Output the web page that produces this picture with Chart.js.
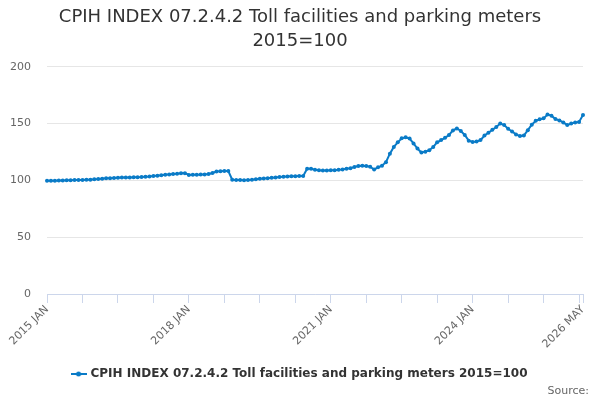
<!DOCTYPE html>
<html>
<head>
<meta charset="utf-8">
<script src="https://cdn.jsdelivr.net/npm/chart.js@4/dist/chart.umd.min.js"></script>
<style>
  body { margin: 0; background: #fff; }
  #wrap { position: relative; width: 600px; height: 400px; }
  #source { position: absolute; right: 11px; top: 384px; font: 11px "DejaVu Sans", sans-serif; color: #666; }
</style>
</head>
<body>
<div id="wrap">
  <canvas id="chart" width="600" height="400"></canvas>
  <div id="source">Source:</div>
</div>
<script>
// Monthly index values, 2015 JAN .. 2026 MAY (2015=100)
const startYear = 2015;
const monthNames = ["JAN", "FEB", "MAR", "APR", "MAY", "JUN", "JUL", "AUG", "SEP", "OCT", "NOV", "DEC"];
const values = [
    99.6, 99.7, 99.8, 99.9, 100.0, 100.1, 100.2, 100.3, 100.3, 100.4, 100.5, 100.6,
    101.0, 101.2, 101.5, 101.8, 102.0, 102.2, 102.4, 102.5, 102.6, 102.6, 102.7, 102.8,
    103.0, 103.3, 103.5, 103.8, 104.2, 104.5, 104.9, 105.3, 105.6, 105.9, 106.3, 106.4,
    104.8, 104.9, 105.0, 105.1, 105.3, 105.6, 106.5, 107.8, 108.1, 108.2, 108.2, 100.6,
    100.4, 100.3, 100.2, 100.3, 100.6, 101.0, 101.4, 101.7, 102.0, 102.3, 102.6, 102.9,
    103.2, 103.4, 103.6, 103.7, 103.8, 103.8, 110.2, 110.2, 109.4, 109.0, 108.8, 108.8,
    108.9, 109.0, 109.3, 109.7, 110.2, 110.8, 111.8, 112.6, 112.8, 112.6, 112.0, 109.6,
    111.5, 113.0, 116.0, 123.5, 129.5, 133.5, 137.0, 138.0, 136.8, 132.5, 128.0, 124.5,
    125.3, 126.5, 129.5, 133.5, 135.5, 137.5, 140.0, 144.0, 145.7, 143.5, 140.0, 135.0,
    133.9, 134.2, 135.5, 139.5, 142.0, 144.5, 147.0, 150.0, 148.7, 145.5, 143.0, 140.5,
    139.0, 139.5, 144.2, 149.0, 152.5, 153.8, 154.6, 158.0, 157.0, 154.0, 152.8, 151.0,
    148.7, 150.0, 151.0, 151.5, 157.5
];
const labels = values.map((v, i) => (startYear + Math.floor(i / 12)) + " " + monthNames[i % 12]);
const shownLabels = ["2015 JAN", "2018 JAN", "2021 JAN", "2024 JAN", "2026 MAY"];
const yTicks = [0, 50, 100, 150, 200];

const seriesName = "CPIH INDEX 07.2.4.2 Toll facilities and parking meters 2015=100";
const lineColor = "#0a7bc7";
const font = "'DejaVu Sans', sans-serif";

// legend symbol: short line with a dot
const sym = document.createElement("canvas");
sym.width = 16; sym.height = 6;
const sc = sym.getContext("2d");
sc.strokeStyle = lineColor; sc.lineWidth = 2;
sc.beginPath(); sc.moveTo(0, 3); sc.lineTo(16, 3); sc.stroke();
sc.fillStyle = lineColor;
sc.beginPath(); sc.arc(8, 3, 2.5, 0, Math.PI * 2); sc.fill();

// tick marks every 9 months plus the last month
const isMark = i => i % 9 === 0 || i === values.length - 1;

new Chart(document.getElementById("chart"), {
    type: "line",
    data: {
        labels: labels,
        datasets: [{
            label: seriesName,
            data: values,
            borderColor: lineColor,
            backgroundColor: lineColor,
            borderWidth: 2,
            pointRadius: 2,
            pointBorderWidth: 0,
            pointHoverRadius: 3,
            tension: 0
        }]
    },
    options: {
        responsive: false,
        animation: false,
        layout: { padding: { left: 0, right: 0, top: 0, bottom: 10 } },
        scales: {
            x: {
                offset: false,
                border: { color: "#ccd6eb" },
                grid: {
                    drawOnChartArea: false,
                    tickLength: 9,
                    color: ctx => isMark(ctx.index) ? "#ccd6eb" : "rgba(0,0,0,0)"
                },
                ticks: {
                    autoSkip: false,
                    minRotation: 45,
                    maxRotation: 45,
                    padding: 0,
                    color: "#666",
                    font: { family: font, size: 11 },
                    callback: function (val, i) {
                        const l = this.getLabelForValue(val);
                        return shownLabels.includes(l) ? l : "";
                    }
                },
                afterFit: s => { s.height = 66; s.paddingRight = 17; }
            },
            y: {
                min: 0,
                max: 200,
                border: { display: false },
                grid: { color: "#e6e6e6", drawTicks: false },
                ticks: {
                    stepSize: 50,
                    padding: 16,
                    color: "#666",
                    font: { family: font, size: 11 },
                    callback: v => yTicks.includes(v) ? v : ""
                },
                afterFit: s => { s.width = 47; }
            }
        },
        plugins: {
            title: {
                display: true,
                text: ["CPIH INDEX 07.2.4.2 Toll facilities and parking meters", "2015=100"],
                color: "#333",
                font: { family: font, size: 18, weight: "normal", lineHeight: 1.3 },
                padding: { top: 6, bottom: 14 }
            },
            legend: {
                position: "bottom",
                labels: {
                    usePointStyle: true,
                    pointStyle: sym,
                    color: "#333",
                    font: { family: font, size: 12, weight: "bold" },
                    padding: 8
                }
            },
            tooltip: { enabled: false }
        }
    }
});
</script>
</body>
</html>
